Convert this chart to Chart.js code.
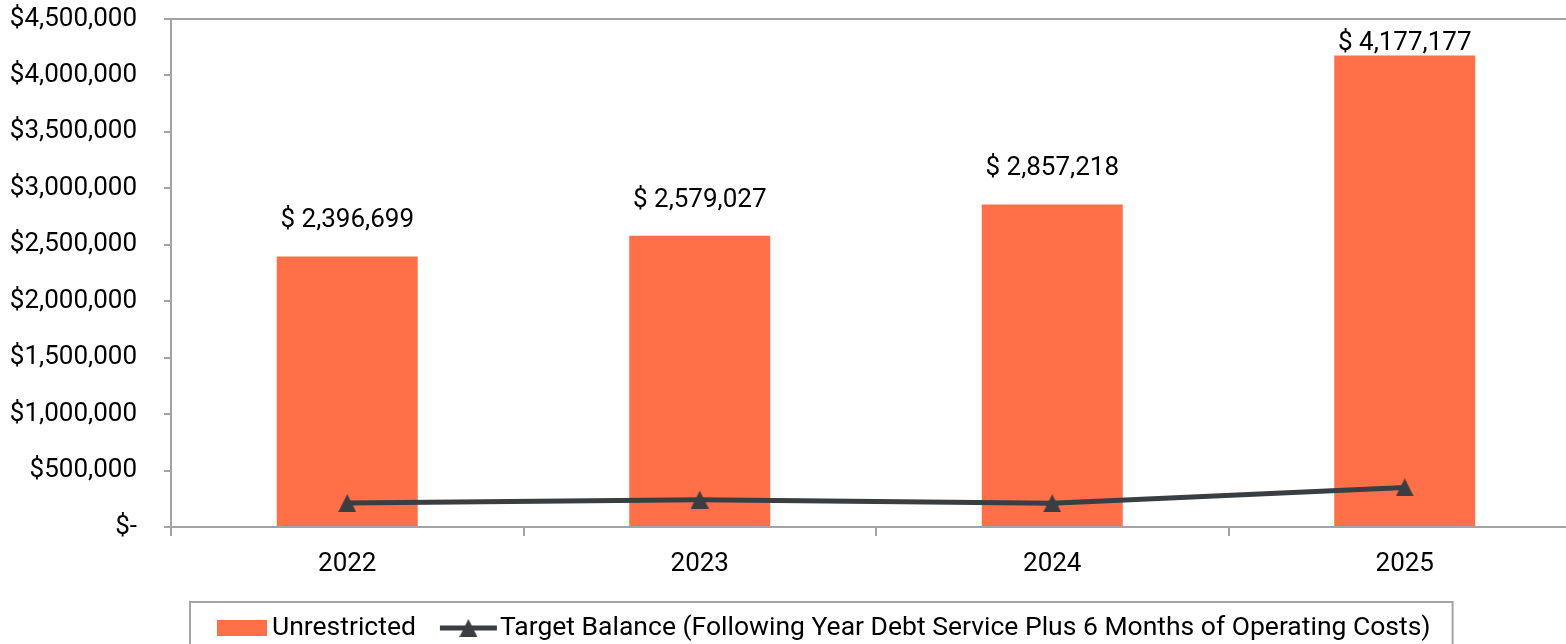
<!DOCTYPE html>
<html>
<head>
<meta charset="utf-8">
<script src="https://cdn.jsdelivr.net/npm/chart.js@4.4.1/dist/chart.umd.min.js"></script>
<style>
    html, body { margin: 0; padding: 0; background: #fff; overflow: hidden; }
    #wrap { width: 1600px; height: 660px; }
</style>
</head>
<body>
<div id="wrap"><canvas id="balanceChart" width="1600" height="660"></canvas></div>
<script>
const years = ["2022", "2023", "2024", "2025"];
const unrestricted = [2396699, 2579027, 2857218, 4177177];
const targetBalance = [212000, 242000, 210000, 350000];
const yTickLabels = ["$-", "$500,000", "$1,000,000", "$1,500,000", "$2,000,000",
    "$2,500,000", "$3,000,000", "$3,500,000", "$4,000,000", "$4,500,000"];

const barColor = "#ff6f48";
const lineColor = "#393e42";
const axisColor = "#a3a3a3";

// triangle marker, centred in its box like the spreadsheet one
function makeTriangle(size, color) {
    const c = document.createElement("canvas");
    c.width = size;
    c.height = size;
    const g = c.getContext("2d");
    g.fillStyle = color;
    g.beginPath();
    g.moveTo(size / 2, 0);
    g.lineTo(size, size);
    g.lineTo(0, size);
    g.closePath();
    g.fill();
    return c;
}
const triangle = makeTriangle(18, lineColor);

// "$ 2,396,699" labels above the bars
const barLabels = {
    id: "barLabels",
    afterDatasetsDraw(chart) {
        const ctx = chart.ctx;
        const meta = chart.getDatasetMeta(0);
        ctx.save();
        ctx.font = "26px Roboto";
        ctx.fillStyle = "#000";
        ctx.textAlign = "center";
        ctx.textBaseline = "alphabetic";
        meta.data.forEach(function (bar, i) {
            const text = "$ " + unrestricted[i].toLocaleString("en-US");
            // labels that would run off the top sit just above the bar instead
            const y = Math.max(bar.y - 29, chart.chartArea.top + 31);
            ctx.fillText(text, bar.x, y);
        });
        ctx.restore();
    }
};

// legend inside a grey frame below the axis
const boxedLegend = {
    id: "boxedLegend",
    afterDraw(chart) {
        const ctx = chart.ctx;
        const left = 190, top = 602, midY = 628;
        ctx.save();
        ctx.font = "26.5px Roboto";
        ctx.textBaseline = "middle";

        let x = left + 27;
        ctx.fillStyle = barColor;
        ctx.fillRect(x, midY - 8, 50, 16);
        x += 55;
        ctx.fillStyle = "#000";
        const t1 = chart.data.datasets[0].label;
        ctx.fillText(t1, x, midY);
        x += ctx.measureText(t1).width + 24;

        ctx.strokeStyle = lineColor;
        ctx.lineWidth = 5;
        ctx.beginPath();
        ctx.moveTo(x, midY);
        ctx.lineTo(x + 57, midY);
        ctx.stroke();
        ctx.drawImage(triangle, x + 28.5 - 9, midY - 9);
        x += 60;
        const t2 = chart.data.datasets[1].label;
        ctx.fillText(t2, x, midY);
        x += ctx.measureText(t2).width + 22;

        ctx.strokeStyle = axisColor;
        ctx.lineWidth = 2;
        ctx.strokeRect(left, top, x - left, 80);
        ctx.restore();
    }
};

Chart.defaults.font.family = "Roboto";
Chart.defaults.font.size = 26;
Chart.defaults.color = "#000";

new Chart(document.getElementById("balanceChart").getContext("2d"), {
    data: {
        labels: years,
        datasets: [{
            type: "bar",
            label: "Unrestricted",
            data: unrestricted,
            backgroundColor: barColor,
            barPercentage: 0.4,
            categoryPercentage: 1,
            order: 1,
        }, {
            type: "line",
            label: "Target Balance (Following Year Debt Service Plus 6 Months of Operating Costs)",
            data: targetBalance,
            borderColor: lineColor,
            backgroundColor: lineColor,
            borderWidth: 5,
            tension: 0,
            pointStyle: triangle,
            order: 0,
        }],
    },
    options: {
        responsive: false,
        animation: false,
        layout: {
            padding: { top: 19, right: 19, bottom: 58, left: 0 },
        },
        plugins: {
            legend: { display: false },
            tooltip: { enabled: false },
        },
        scales: {
            x: {
                grid: {
                    offset: true,
                    drawOnChartArea: false,
                    tickLength: 9,
                    color: axisColor,
                    lineWidth: 2,
                },
                border: { color: axisColor, width: 2 },
                ticks: { padding: 13 },
                afterFit: function (scale) {
                    scale.height = 75;
                    scale.paddingLeft = 0;
                    scale.paddingRight = 0;
                },
            },
            y: {
                min: 0,
                max: 4500000,
                ticks: {
                    stepSize: 500000,
                    padding: 27,
                    callback: function (value, index) { return yTickLabels[index]; },
                },
                grid: {
                    tickLength: 7,
                    lineWidth: 2,
                    color: function (ctx) {
                        return ctx.tick && ctx.tick.value === 4500000 ? axisColor : "rgba(0,0,0,0)";
                    },
                    tickColor: axisColor,
                },
                border: { color: axisColor, width: 2 },
                afterFit: function (scale) {
                    scale.width = 171;
                    scale.paddingTop = 0;
                    scale.paddingBottom = 0;
                },
            },
        },
    },
    plugins: [barLabels, boxedLegend],
});
</script>
</body>
</html>
